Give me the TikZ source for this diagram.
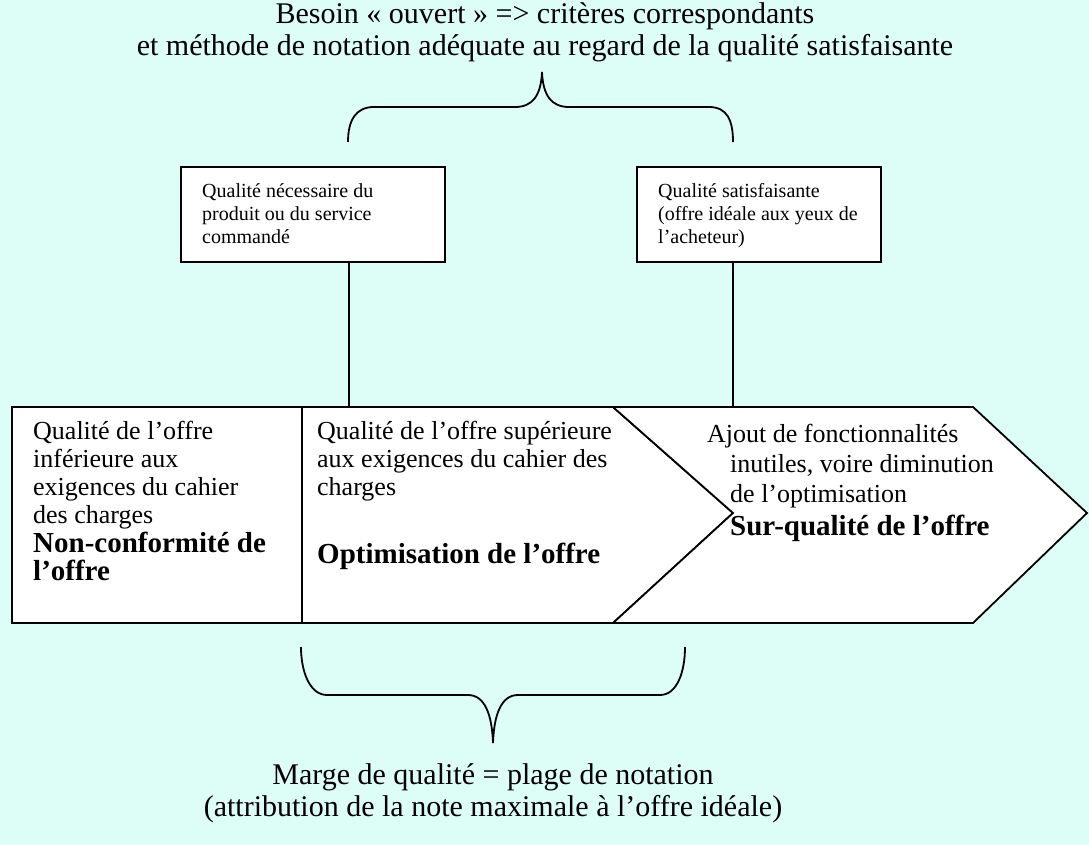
\documentclass[tikz,border=0pt]{standalone}
\usepackage{fontspec}
\setmainfont{Liberation Serif}
\definecolor{bgc}{RGB}{221,253,247}
\tikzset{
  outline/.style={draw=black, line width=1.8pt, fill=white, outer sep=0pt},
  brace/.style={draw=black, line width=1.8pt},
  smallbox/.style={outline, minimum height=95pt, inner sep=0pt, anchor=north west},
  txt/.style={inner sep=0pt, anchor=north west, align=left},
  ctxt/.style={inner sep=0pt, anchor=north, align=center},
  fsmall/.style={font=\fontsize{20}{23}\selectfont},
  freg/.style={font=\fontsize{26}{28}\selectfont},
  fchev/.style={font=\fontsize{26}{30}\selectfont},
  fbold/.style={font=\fontsize{29}{28}\selectfont\bfseries},
  fbig/.style={font=\fontsize{30}{32}\selectfont},
}
\begin{document}
\begin{tikzpicture}[x=1pt,y=-1pt]
\useasboundingbox (0,0) rectangle (1089,845);
\fill[bgc] (0,0) rectangle (1089,845);

% top caption and brace
\node[ctxt, fbig] (toptext) at (545,-6) {\rule{0pt}{29pt}Besoin « ouvert » => critères correspondants\\et méthode de notation adéquate au regard de la qualité satisfaisante};
\draw[brace] (348,142) .. controls (348,120) and (356,107) .. (374,107) -- (515,107)
  .. controls (533,107) and (541,95) .. (542,72)
  .. controls (543,95) and (551,107) .. (569,107) -- (709,107)
  .. controls (727,107) and (733,120) .. (733,142);

% small boxes
\node[smallbox, minimum width=264pt] (nec) at (181,167) {};
\node[smallbox, minimum width=244pt] (sat) at (637,167) {};
\node[txt, fsmall] (nectext) at (202,178) {\rule{0pt}{19pt}Qualité nécessaire du\\produit ou du service\\commandé};
\node[txt, fsmall] (sattext) at (658,178) {\rule{0pt}{19pt}Qualité satisfaisante\\(offre idéale aux yeux de\\l’acheteur)};

% main band
\node[outline, minimum width=290pt, minimum height=216pt, inner sep=0pt, anchor=north west] (nonconf) at (12,407) {};
\draw[outline] (302,407) -- (613,407) -- (733,513) -- (613,623) -- (302,623) -- cycle;
\draw[outline, line join=miter] (613,407) -- (973,407) -- (1087,513) -- (973,623) -- (613,623) -- (733,513) -- cycle;
\coordinate (optim) at (349,407);
\coordinate (surq) at (733,407);

% connectors
\draw[brace] (optim |- nec.south) -- (optim);
\draw[brace] (surq |- sat.south) -- (surq);

% band texts
\node[txt, freg] (a1) at (33,414) {\rule{0pt}{25pt}Qualité de l’offre\\inférieure aux\\exigences du cahier\\des charges};
\node[txt, fbold] (a2) at (33,524) {\rule{0pt}{28pt}Non-conformité de\\l’offre};
\node[txt, freg] (b1) at (317,414) {\rule{0pt}{25pt}Qualité de l’offre supérieure\\aux exigences du cahier des\\charges};
\node[txt, fbold] (b2) at (317,535) {\rule{0pt}{28pt}Optimisation de l’offre};
\node[txt, fchev] (c1) at (707,417) {\rule{0pt}{25pt}Ajout de fonctionnalités\\\hspace*{23pt}inutiles, voire diminution\\\hspace*{23pt}de l’optimisation};
\node[txt, fbold] (c2) at (730,507) {\rule{0pt}{28pt}Sur-qualité de l’offre};

% bottom brace and caption
\draw[brace] (301,647) .. controls (301,672) and (310,695) .. (327,695) -- (468,695)
  .. controls (485,695) and (492,715) .. (493,743)
  .. controls (494,715) and (501,695) .. (518,695) -- (660,695)
  .. controls (677,695) and (685,672) .. (685,647);
\node[ctxt, fbig] (bottext) at (493,755) {\rule{0pt}{29pt}Marge de qualité = plage de notation\\(attribution de la note maximale à l’offre idéale)};
\end{tikzpicture}
\end{document}
